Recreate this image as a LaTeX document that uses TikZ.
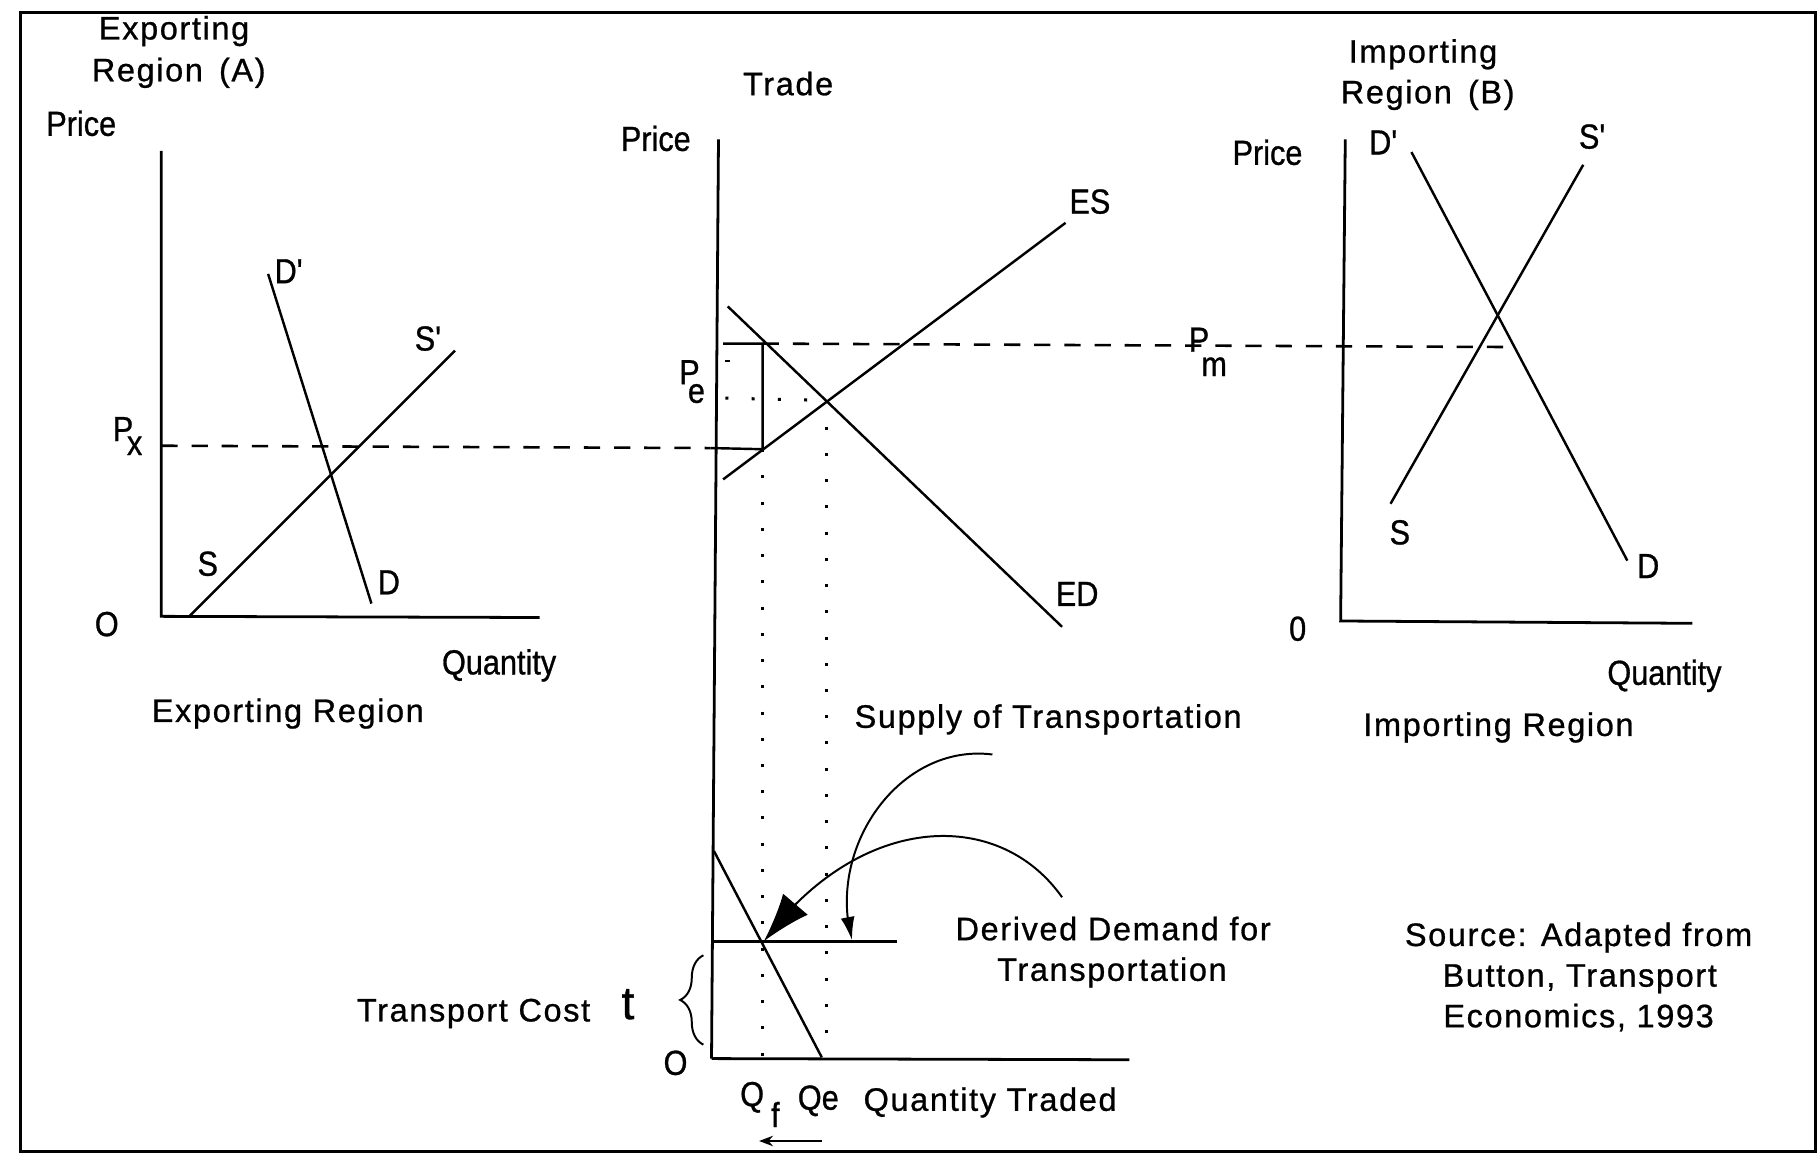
\documentclass[tikz,border=0pt]{standalone}
\usepackage{fontspec}
\setmainfont{Liberation Sans}[FakeBold=0.8]
\newfontfamily\widefont[LetterSpace=5,FakeBold=0.8]{Liberation Sans}
\newfontfamily\narrowfont[FakeStretch=0.88,FakeBold=0.8]{Liberation Sans}
\usetikzlibrary{arrows.meta,decorations.pathreplacing,bending}
\begin{document}
\begin{tikzpicture}[x=1pt,y=-1pt,
  txt/.style={font=\widefont\fontsize{28}{34}\selectfont, inner sep=0pt, anchor=base},
  ntxt/.style={font=\narrowfont\fontsize{30}{34}\selectfont, inner sep=0pt, anchor=base},
  bigt/.style={font=\fontsize{40}{40}\selectfont, inner sep=0pt, anchor=base},
  axisln/.style={line width=2.4pt},
  curveln/.style={line width=2.1pt},
  arcln/.style={line width=1.7pt},
  dashln/.style={line width=2.2pt, dash pattern=on 14pt off 12pt},
  dotln/.style={line width=2.6pt, dash pattern=on 2.6pt off 20pt},
  framebox/.style={line width=2.6pt}
]
\useasboundingbox (0,0) rectangle (1568,999);
\draw[framebox] (18,11) rectangle (1564,992);

% ---------------- Exporting region ----------------
\node[txt] (expA1) at (150,34) {Exporting};
\node[txt] (expA2) at (154,70) {Region\, (A)};
\node[ntxt] (priceA) at (70,117) {Price};
\node[ntxt] (zeroA) at (92,548) {O};
\node[ntxt] (qtyA) at (430,581) {Quantity};
\node[txt] (expRegion) at (248,622) {Exporting Region};
\node[ntxt] (DpA) at (249,244) {D\textquotesingle};
\node[ntxt] (DA) at (335,512) {D};
\node[ntxt] (SpA) at (369,302) {S\textquotesingle};
\node[ntxt] (SA) at (179,496) {S};
\node[ntxt] (PxP) at (106,380) {P};
\node[ntxt] (PxX) at (116,392) {x};

\coordinate (A0) at (139,531);
\coordinate (Atop) at (139,130);
\coordinate (Aright) at (465,532);
\draw[axisln] (Atop) -- (A0) -- (Aright);
\coordinate (AD1) at (231,236); \coordinate (AD2) at (320,520);
\coordinate (AS1) at (163,531); \coordinate (AS2) at (392,302);
\draw[curveln] (AD1) -- (AD2);
\draw[curveln] (AS1) -- (AS2);
\coordinate (PxL) at (139,384);
\coordinate (PxR) at (612,386);
\coordinate (TB) at (657,387);
\coordinate (TT) at (657,296);
\coordinate (TTL) at (623,296);
\draw[dashln] (PxL) -- (PxR);
\draw[curveln] (PxR) -- (TB) -- (TT) -- (TTL);

% ---------------- Trade ----------------
\node[txt] (trade) at (679,82) {Trade};
\node[ntxt] (priceT) at (565,130) {Price};
\node[ntxt] (ES) at (939,184) {ES};
\node[ntxt] (ED) at (928,522) {ED};
\node[ntxt] (PeP) at (594,331) {P};
\node[ntxt] (PeE) at (600,347) {e};

\coordinate (Ttop) at (619,120);
\coordinate (Tbot) at (613,912);
\draw[axisln] (Ttop) -- (Tbot);
\coordinate (ED1) at (627,264); \coordinate (ED2) at (915,540);
\coordinate (ES1) at (623,413); \coordinate (ES2) at (918,192);
\draw[curveln] (ED1) -- (ED2);
\draw[curveln] (ES1) -- (ES2);
\coordinate (Eq) at (712,345);
\coordinate (PeL) at (625,343);
\draw[dotln] (PeL) -- (Eq);
\coordinate (dotA) at (625,311); \coordinate (dotB) at (629,311);
\draw[line width=2.2pt] (dotA) -- (dotB);
\coordinate (PmR) at (1304,299);
\draw[dashln] (TT) -- (PmR);

% ---------------- Importing region ----------------
\node[txt] (impB1) at (1226,54) {Importing};
\node[txt] (impB2) at (1230,89) {Region\, (B)};
\node[ntxt] (priceB) at (1092,142) {Price};
\node[ntxt] (zeroB) at (1118,552) {0};
\node[ntxt] (qtyB) at (1434,590) {Quantity};
\node[txt] (impRegion) at (1291,634) {Importing Region};
\node[ntxt] (DpB) at (1192,133) {D\textquotesingle};
\node[ntxt] (SpB) at (1372,128) {S\textquotesingle};
\node[ntxt] (SB) at (1206,469) {S};
\node[ntxt] (DB) at (1420,498) {D};
\node[ntxt] (PmP) at (1033,303) {P};
\node[ntxt] (PmM) at (1046,324) {m};

\coordinate (Btop) at (1159,120);
\coordinate (B0) at (1155,535);
\coordinate (Bright) at (1458,537);
\draw[axisln] (Btop) -- (B0) -- (Bright);
\coordinate (BD1) at (1216,131); \coordinate (BD2) at (1402,483);
\coordinate (BS1) at (1364,142); \coordinate (BS2) at (1198,434);
\draw[curveln] (BD1) -- (BD2);
\draw[curveln] (BS1) -- (BS2);

% ---------------- Transport ----------------
\node[txt] (supplyT) at (903,627) {Supply of Transportation};
\node[txt] (ddT1) at (959,810) {Derived Demand for};
\node[txt] (ddT2) at (958,845) {Transportation};
\node[txt] (tcost) at (408,880) {Transport Cost};
\node[bigt] (tlab) at (541,878) {t};
\node[ntxt] (zeroT) at (582,926) {O};
\node[ntxt] (QfQ) at (648,953) {Q};
\node[ntxt] (QfF) at (668,971) {f};
\node[ntxt] (Qe) at (705,956) {Qe};
\node[txt] (qtyT) at (853,957) {Quantity Traded};
\node[txt] (src1) at (1360,815) {Source: Adapted from};
\node[txt] (src2) at (1361,850) {Button, Transport};
\node[txt] (src3) at (1360,885) {Economics, 1993};

\coordinate (Tright) at (973,913);
\draw[axisln] (Tbot) -- (Tright);
\coordinate (SupL) at (613,811); \coordinate (SupR) at (773,811);
\draw[curveln] (SupL) -- (SupR);
\coordinate (DD1) at (615,733); \coordinate (DD2) at (708,911);
\draw[curveln] (DD1) -- (DD2);
\coordinate (Qf0) at (657,910); \coordinate (Qe0) at (712,910);
\draw[dotln] (TB) -- (Qf0);
\draw[dotln] (Eq) -- (Qe0);
\coordinate (TX) at (658,811);

\coordinate (a1s) at (855,650); \coordinate (a1e) at (734,810);
\draw[arcln,-{Latex[length=20pt,width=12pt]}] (a1s) .. controls (775,640) and (712,730) .. (a1e);
\coordinate (a2s) at (915,773);
\draw[arcln,-{Latex[length=42pt,width=28pt]}] (a2s) .. controls (860,695) and (740,700) .. (TX);

\coordinate (brT) at (606,823); \coordinate (brB) at (606,900);
\draw[arcln, decorate, decoration={brace, amplitude=20pt, aspect=0.5}] (brB) -- (brT);

\coordinate (arR) at (708,983); \coordinate (arL) at (654,983);
\draw[arcln,-{Stealth[length=12pt,width=9pt]}] (arR) -- (arL);
\end{tikzpicture}
\end{document}
